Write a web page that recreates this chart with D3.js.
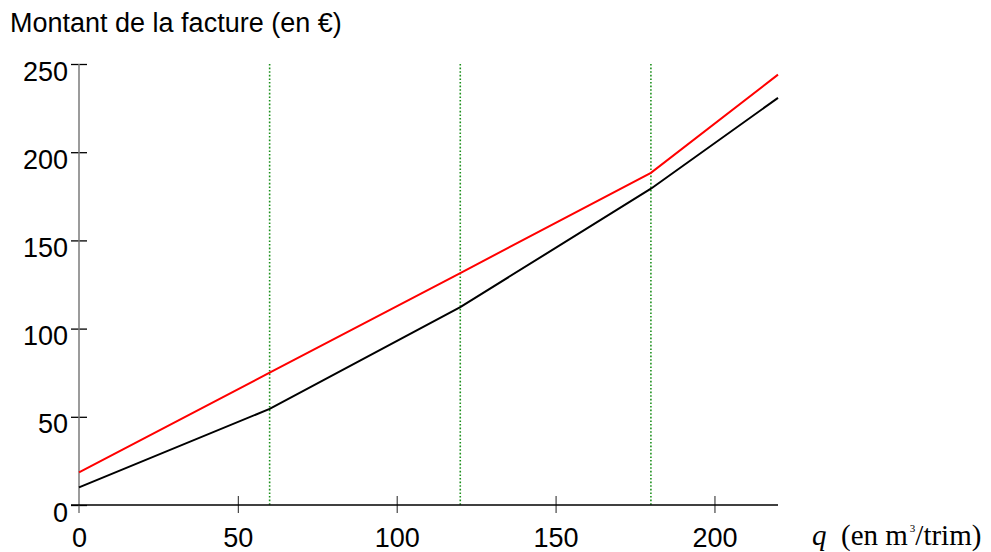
<!DOCTYPE html>
<html>
<head>
<meta charset="utf-8">
<script src="https://cdn.jsdelivr.net/npm/d3@7"></script>
<style>
  body { margin: 0; background: #fff; }
  svg { display: block; }
  .lbl { font-family: "Liberation Sans", Arial, sans-serif; font-size: 27px; fill: #000; }
  .unit { font-family: "Liberation Serif", "Times New Roman", serif; font-size: 29px; fill: #000; }
</style>
</head>
<body>
<svg id="chart"></svg>
<script>
"use strict"

// volumes (m3 / trimestre) where the tariff changes
const qValues = [0, 60, 120, 180, 220]
const redValues = [18.5, 75, 131.5, 188.3, 244]
const blackValues = [10, 54.5, 112.2, 179.3, 230.8]
const thresholds = [60, 120, 180]
const xTicks = [0, 50, 100, 150, 200]
const yTicks = [0, 50, 100, 150, 200, 250]

const width = 991
const height = 552
const plotLeft = 79
const plotTop = 64
const plotRight = 778
const plotBottom = 505

const svg = d3.select("#chart")
  .attr("width", width)
  .attr("height", height)

const x = d3.scaleLinear().domain([0, 220]).range([plotLeft, plotRight])
const y = d3.scaleLinear().domain([0, 250]).range([plotBottom, plotTop])

// title
svg.append("text")
  .attr("class", "lbl")
  .attr("x", 10)
  .attr("y", 32)
  .text("Montant de la facture (en €)")

// green dotted thresholds
svg.append("g")
  .selectAll("line")
  .data(thresholds)
  .enter().append("line")
    .attr("x1", d => x(d))
    .attr("x2", d => x(d))
    .attr("y1", y(250))
    .attr("y2", y(0))
    .attr("stroke", "#1b8f1b")
    .attr("stroke-width", 1.6)
    .attr("stroke-dasharray", "1.6,2")

// y axis
const yAxis = svg.append("g")
  .attr("transform", `translate(${plotLeft},0)`)
  .call(d3.axisLeft(y).tickValues(yTicks).tickSize(8).tickFormat(d3.format("d")))
yAxis.select(".domain").remove()
yAxis.selectAll(".tick line")
  .attr("x1", -8).attr("x2", 8)
  .attr("stroke", "#000").attr("stroke-width", 1.3)
yAxis.selectAll(".tick text")
  .attr("class", "lbl")
  .attr("x", -11)
  .attr("dy", null)
  .attr("y", 16)
yAxis.attr("font-size", null).attr("font-family", null)

svg.append("line")
  .attr("x1", plotLeft).attr("x2", plotLeft)
  .attr("y1", plotTop).attr("y2", plotBottom + 8)
  .attr("stroke", "#7a7a7a")
  .attr("stroke-width", 1.5)

// x axis
const xAxis = svg.append("g")
  .attr("transform", `translate(0,${plotBottom})`)
  .call(d3.axisBottom(x).tickValues(xTicks).tickSize(8).tickFormat(d3.format("d")))
xAxis.select(".domain").remove()
xAxis.selectAll(".tick line")
  .attr("y1", -9).attr("y2", 8)
  .attr("stroke", d => d === 0 ? "none" : "#444").attr("stroke-width", 1.2)
xAxis.selectAll(".tick text")
  .attr("class", "lbl")
  .attr("dy", null)
  .attr("y", 42)
xAxis.attr("font-size", null).attr("font-family", null)

svg.append("line")
  .attr("x1", plotLeft - 8).attr("x2", plotRight)
  .attr("y1", plotBottom).attr("y2", plotBottom)
  .attr("stroke", "#000")
  .attr("stroke-width", 1.6)

// unit label
const unit = svg.append("text")
  .attr("class", "unit")
  .attr("x", 812)
  .attr("y", 545)
unit.append("tspan").attr("font-style", "italic").text("q")
unit.append("tspan").attr("x", 841).text("(en m")
unit.append("tspan").attr("dx", 2).attr("dy", -13).attr("font-size", 11).text("3")
unit.append("tspan").attr("dy", 13).text("/trim)")

// curves
const line = d3.line()
  .x(d => x(d[0]))
  .y(d => y(d[1]))

svg.append("path")
  .datum(d3.zip(qValues, blackValues))
  .attr("d", line)
  .attr("fill", "none")
  .attr("stroke", "#000")
  .attr("stroke-width", 2)

svg.append("path")
  .datum(d3.zip(qValues, redValues))
  .attr("d", line)
  .attr("fill", "none")
  .attr("stroke", "#ff0000")
  .attr("stroke-width", 2)
</script>
</body>
</html>
